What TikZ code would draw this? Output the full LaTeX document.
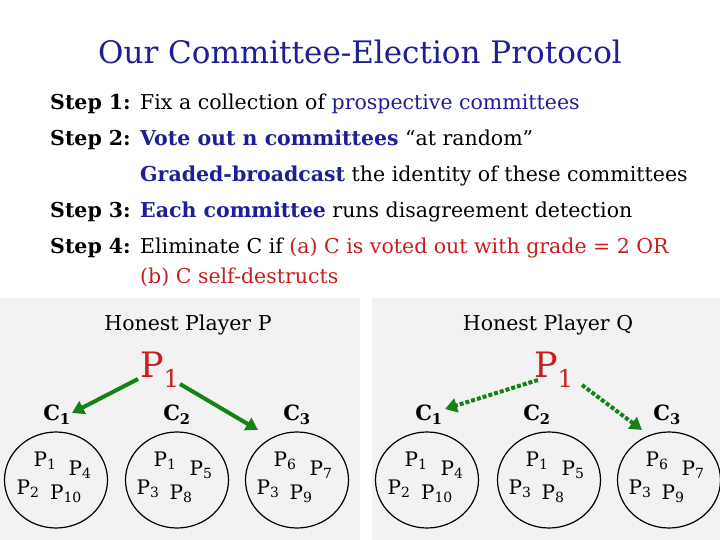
\documentclass[tikz,border=0pt]{standalone}
\usepackage{fontspec}
\setmainfont{DejaVu Serif}
\usetikzlibrary{arrows.meta,shapes.geometric}
\definecolor{tblue}{RGB}{30,30,150}
\definecolor{tred}{RGB}{200,30,30}
\definecolor{bgray}{RGB}{242,242,242}
\definecolor{agreen}{RGB}{20,130,20}
\newcommand{\sbs}[1]{\textsubscript{#1}}
\newcommand{\stp}[1]{\makebox[90pt][l]{\textbf{#1}}}
\tikzset{
 line/.style={font=\fontsize{20.5}{22}\selectfont, anchor=base west, inner sep=0},
 comm/.style={draw, line width=1.2pt, ellipse, minimum width=103pt, minimum height=96pt},
 plab/.style={font=\fontsize{20}{22}\selectfont, inner sep=0},
 clab/.style={font=\bfseries\fontsize{21}{24}\selectfont, inner sep=0},
 big/.style={font=\fontsize{35}{38}\selectfont, text=tred, inner sep=1pt},
 hp/.style={font=\fontsize{20.5}{22}\selectfont},
 sarr/.style={draw=agreen, line width=4pt, -{Triangle[length=12pt,width=14pt]}},
 darr/.style={draw=agreen, line width=4pt, dash pattern=on 4pt off 2pt, -{Triangle[length=12pt,width=14pt]}}
}
\begin{document}
\begin{tikzpicture}[x=1pt,y=-1pt]
\useasboundingbox (0,0) rectangle (720,540);
\fill[white] (0,0) rectangle (720,540);
\fill[bgray] (0,298) rectangle (360,540);
\fill[bgray] (372,298) rectangle (720,540);
\node[font=\fontsize{31}{34}\selectfont, text=tblue] (title) at (360,52) {Our Committee-Election Protocol};
\node[line] (s1) at (50,110) {\stp{Step 1:}Fix a collection of \textcolor{tblue}{prospective committees}};
\node[line] (s2) at (50,146) {\stp{Step 2:}\textcolor{tblue}{\textbf{Vote out n committees}} “at random”};
\node[line] (s2b) at (140,182) {\textcolor{tblue}{\textbf{Graded-broadcast}} the identity of these committees};
\node[line] (s3) at (50,218) {\stp{Step 3:}\textcolor{tblue}{\textbf{Each committee}} runs disagreement detection};
\node[line] (s4) at (50,254) {\stp{Step 4:}Eliminate C if \textcolor{tred}{(a) C is voted out with grade = 2 OR}};
\node[line] (s4b) at (140,283) {\textcolor{tred}{(b) C self-destructs}};
% left panel
\node[hp] (hpp) at (188,325) {Honest Player P};
\node[big] (pa) at (160,370) {P\sbs{1}};
\node[clab] (c1) at (57,415) {C\sbs{1}};
\node[clab] (c2) at (177,415) {C\sbs{2}};
\node[clab] (c3) at (297,415) {C\sbs{3}};
\node[comm] (e1) at (56,480) {};
\node[comm] (e2) at (177,480) {};
\node[comm] (e3) at (297,480) {};
\node[plab] (a1) at (45,461) {P\sbs{1}};
\node[plab] (a2) at (80,470) {P\sbs{4}};
\node[plab] (a3) at (28,489) {P\sbs{2}};
\node[plab] (a4) at (66,494) {P\sbs{10}};
\node[plab] (b1) at (165,461) {P\sbs{1}};
\node[plab] (b2) at (201,470) {P\sbs{5}};
\node[plab] (b3) at (148,489) {P\sbs{3}};
\node[plab] (b4) at (181,494) {P\sbs{8}};
\node[plab] (d1) at (285,461) {P\sbs{6}};
\node[plab] (d2) at (321,470) {P\sbs{7}};
\node[plab] (d3) at (268,489) {P\sbs{3}};
\node[plab] (d4) at (301,494) {P\sbs{9}};
\coordinate (l1s) at (138,379); \coordinate (l1e) at (72,413);
\coordinate (l2s) at (180,384); \coordinate (l2e) at (258,430);
\draw[sarr] (l1s) -- (l1e);
\draw[sarr] (l2s) -- (l2e);
% right panel
\node[hp] (hpq) at (548,325) {Honest Player Q};
\node[big] (pb) at (554,370) {P\sbs{1}};
\node[clab] (q1) at (429,415) {C\sbs{1}};
\node[clab] (q2) at (537,415) {C\sbs{2}};
\node[clab] (q3) at (667,415) {C\sbs{3}};
\node[comm] (f1) at (427,480) {};
\node[comm] (f2) at (549,480) {};
\node[comm] (f3) at (669,480) {};
\node[plab] (g1) at (416,461) {P\sbs{1}};
\node[plab] (g2) at (452,470) {P\sbs{4}};
\node[plab] (g3) at (399,489) {P\sbs{2}};
\node[plab] (g4) at (437,494) {P\sbs{10}};
\node[plab] (h1) at (537,461) {P\sbs{1}};
\node[plab] (h2) at (573,470) {P\sbs{5}};
\node[plab] (h3) at (520,489) {P\sbs{3}};
\node[plab] (h4) at (553,494) {P\sbs{8}};
\node[plab] (k1) at (657,461) {P\sbs{6}};
\node[plab] (k2) at (693,470) {P\sbs{7}};
\node[plab] (k3) at (640,489) {P\sbs{3}};
\node[plab] (k4) at (673,494) {P\sbs{9}};
\coordinate (r1s) at (538,380); \coordinate (r1e) at (445,409);
\coordinate (r2s) at (582,385); \coordinate (r2e) at (642,430);
\draw[darr] (r1s) -- (r1e);
\draw[darr] (r2s) -- (r2e);
\end{tikzpicture}
\end{document}
